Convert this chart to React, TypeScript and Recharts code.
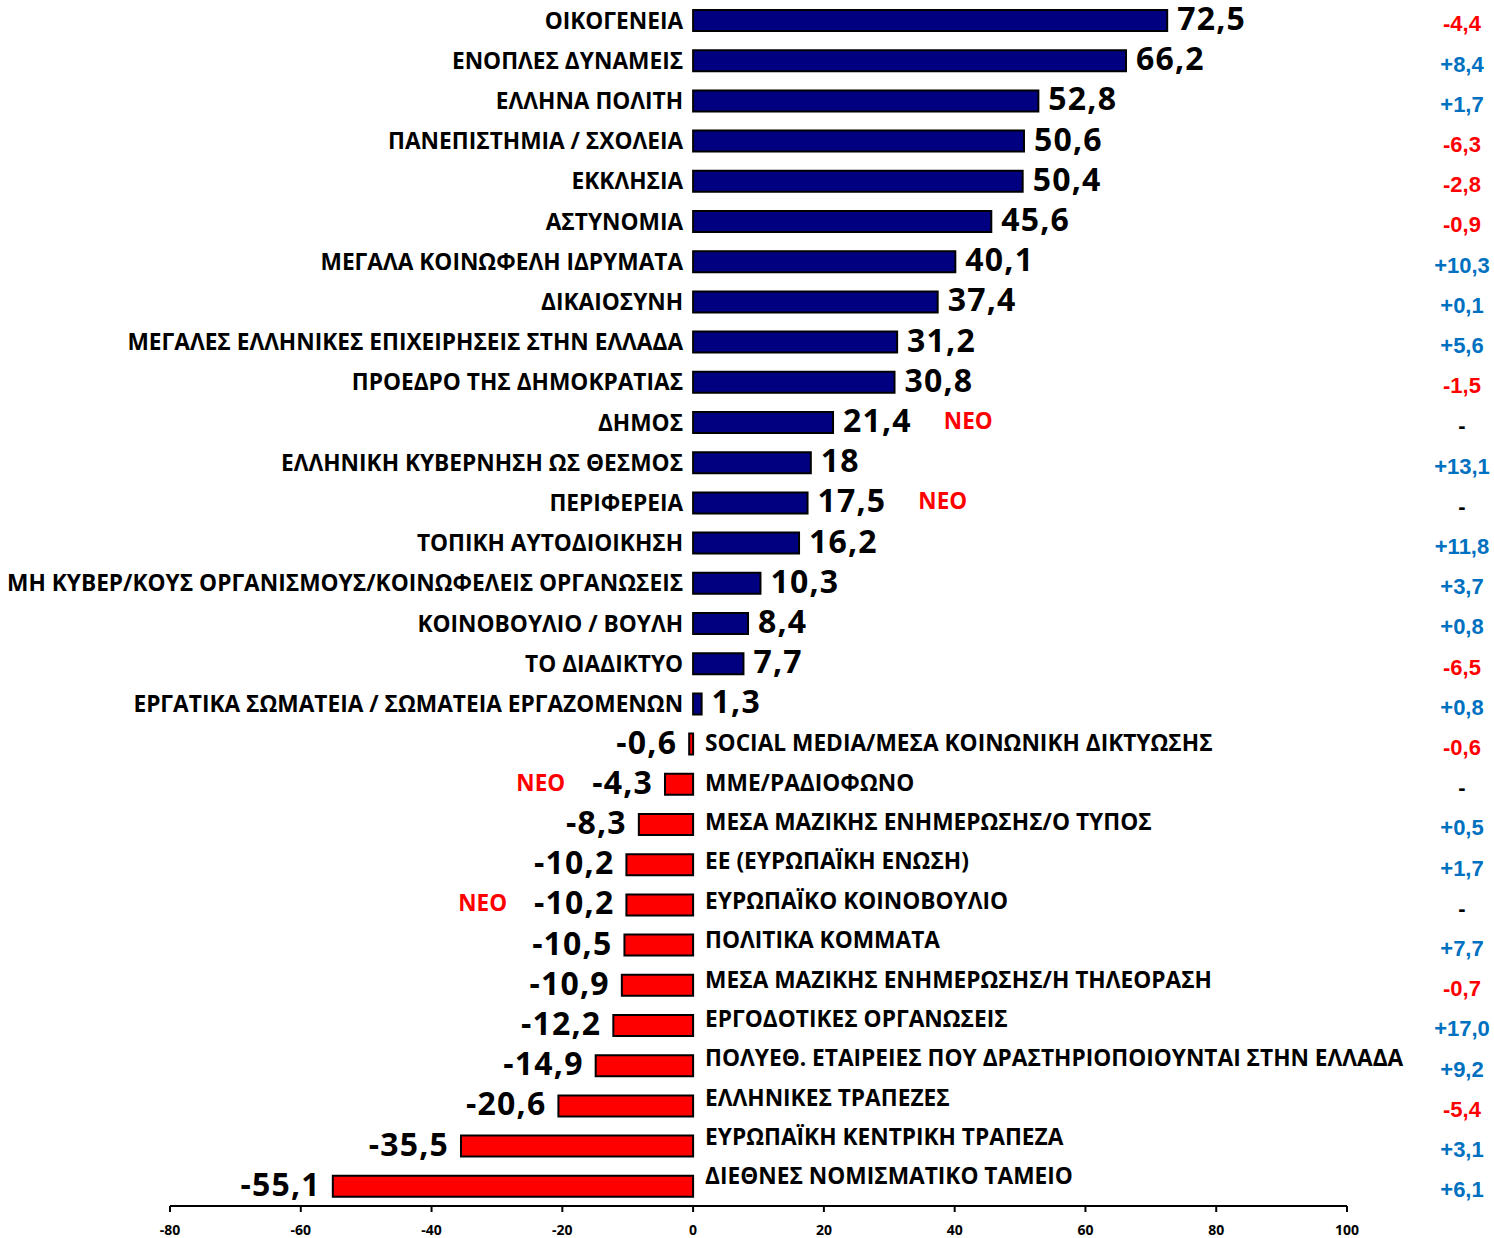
import React from 'react';
import { BarChart, Bar, XAxis, YAxis, Cell, LabelList } from 'recharts';

const categories = [
    'ΟΙΚΟΓΕΝΕΙΑ',
    'ΕΝΟΠΛΕΣ ΔΥΝΑΜΕΙΣ',
    'ΕΛΛΗΝΑ ΠΟΛΙΤΗ',
    'ΠΑΝΕΠΙΣΤΗΜΙΑ / ΣΧΟΛΕΙΑ',
    'ΕΚΚΛΗΣΙΑ',
    'ΑΣΤΥΝΟΜΙΑ',
    'ΜΕΓΑΛΑ ΚΟΙΝΩΦΕΛΗ ΙΔΡΥΜΑΤΑ',
    'ΔΙΚΑΙΟΣΥΝΗ',
    'ΜΕΓΑΛΕΣ ΕΛΛΗΝΙΚΕΣ ΕΠΙΧΕΙΡΗΣΕΙΣ ΣΤΗΝ ΕΛΛΑΔΑ',
    'ΠΡΟΕΔΡΟ ΤΗΣ ΔΗΜΟΚΡΑΤΙΑΣ',
    'ΔΗΜΟΣ',
    'ΕΛΛΗΝΙΚΗ ΚΥΒΕΡΝΗΣΗ ΩΣ ΘΕΣΜΟΣ',
    'ΠΕΡΙΦΕΡΕΙΑ',
    'ΤΟΠΙΚΗ ΑΥΤΟΔΙΟΙΚΗΣΗ',
    'ΜΗ ΚΥΒΕΡ/ΚΟΥΣ ΟΡΓΑΝΙΣΜΟΥΣ/ΚΟΙΝΩΦΕΛΕΙΣ ΟΡΓΑΝΩΣΕΙΣ',
    'ΚΟΙΝΟΒΟΥΛΙΟ / ΒΟΥΛΗ',
    'ΤΟ ΔΙΑΔΙΚΤΥΟ',
    'ΕΡΓΑΤΙΚΑ ΣΩΜΑΤΕΙΑ / ΣΩΜΑΤΕΙΑ ΕΡΓΑΖΟΜΕΝΩΝ',
    'SOCIAL MEDIA/ΜΕΣΑ ΚΟΙΝΩΝΙΚΗ ΔΙΚΤΥΩΣΗΣ',
    'ΜΜΕ/ΡΑΔΙΟΦΩΝΟ',
    'ΜΕΣΑ ΜΑΖΙΚΗΣ ΕΝΗΜΕΡΩΣΗΣ/Ο ΤΥΠΟΣ',
    'ΕΕ (ΕΥΡΩΠΑΪΚΗ ΕΝΩΣΗ)',
    'ΕΥΡΩΠΑΪΚΟ ΚΟΙΝΟΒΟΥΛΙΟ',
    'ΠΟΛΙΤΙΚΑ ΚΟΜΜΑΤΑ',
    'ΜΕΣΑ ΜΑΖΙΚΗΣ ΕΝΗΜΕΡΩΣΗΣ/Η ΤΗΛΕΟΡΑΣΗ',
    'ΕΡΓΟΔΟΤΙΚΕΣ ΟΡΓΑΝΩΣΕΙΣ',
    'ΠΟΛΥΕΘ. ΕΤΑΙΡΕΙΕΣ ΠΟΥ ΔΡΑΣΤΗΡΙΟΠΟΙΟΥΝΤΑΙ ΣΤΗΝ ΕΛΛΑΔΑ',
    'ΕΛΛΗΝΙΚΕΣ ΤΡΑΠΕΖΕΣ',
    'ΕΥΡΩΠΑΪΚΗ ΚΕΝΤΡΙΚΗ ΤΡΑΠΕΖΑ',
    'ΔΙΕΘΝΕΣ ΝΟΜΙΣΜΑΤΙΚΟ ΤΑΜΕΙΟ',
];

const scores = [
    72.5, 66.2, 52.8, 50.6, 50.4, 45.6, 40.1, 37.4, 31.2, 30.8,
    21.4, 18, 17.5, 16.2, 10.3, 8.4, 7.7, 1.3, -0.6, -4.3,
    -8.3, -10.2, -10.2, -10.5, -10.9, -12.2, -14.9, -20.6, -35.5, -55.1,
];

// change vs previous wave, null = new item
const changes = [
    -4.4, 8.4, 1.7, -6.3, -2.8, -0.9, 10.3, 0.1, 5.6, -1.5,
    null, 13.1, null, 11.8, 3.7, 0.8, -6.5, 0.8, -0.6, null,
    0.5, 1.7, null, 7.7, -0.7, 17.0, 9.2, -5.4, 3.1, 6.1,
];

const newItems = ['ΔΗΜΟΣ', 'ΠΕΡΙΦΕΡΕΙΑ', 'ΜΜΕ/ΡΑΔΙΟΦΩΝΟ', 'ΕΥΡΩΠΑΪΚΟ ΚΟΙΝΟΒΟΥΛΙΟ'];

const xTicks = [-80, -60, -40, -20, 0, 20, 40, 60, 80, 100];

const rows = categories.map((name, i) => ({
    name,
    value: scores[i],
    change: changes[i],
    neo: newItems.includes(name),
}));

const W = 1494;
const H = 1238;
const FONT = '"Open Sans", Arial, sans-serif';
const CHANGE_X = 1462;
const VAL_SIZE = 32;
const NEO_SIZE = 22.5;

const fmt = (v: number) => String(v).replace('.', ',');
const fmtChange = (v: number | null) =>
    v == null ? '-' : (v > 0 ? '+' : '') + v.toFixed(1).replace('.', ',');

function RowLabels(props: any) {
    const { index } = props;
    const row = rows[index];
    if (!row) return null;
    const vb = props.viewBox ?? props;
    const left = Math.min(vb.x, vb.x + vb.width);
    const right = Math.max(vb.x, vb.x + vb.width);
    const cy = vb.y + vb.height / 2;
    const pos = row.value >= 0;
    const zero = pos ? left : right;
    const end = pos ? right : left;
    // the lower (negative) labels drift upward a little
    const nameDy = pos ? 0 : -(index - 17) * 0.85;
    const valBase = cy - 2 + VAL_SIZE * 0.36;

    const chColor = row.change == null ? '#000' : row.change < 0 ? '#FF0000' : '#0070C0';

    return (
        <g>
            <text
                x={pos ? zero - 10 : zero + 12}
                y={cy + nameDy}
                dy="0.36em"
                textAnchor={pos ? 'end' : 'start'}
                fontFamily={FONT}
                fontWeight={700}
                fontSize={22.7}
                fill="#000"
            >
                {row.name}
            </text>
            {pos ? (
                <text x={end + 10} y={valBase} textAnchor="start" fontFamily={FONT} fontWeight={700} fontSize={VAL_SIZE} letterSpacing={1.2} fill="#000">
                    <tspan>{fmt(row.value)}</tspan>
                    {row.neo && (
                        <tspan dx={32} dy={-3} fontSize={NEO_SIZE} letterSpacing={0} fill="#FF0000">ΝΕΟ</tspan>
                    )}
                </text>
            ) : (
                <text x={end - 12} y={valBase} textAnchor="end" fontFamily={FONT} fontWeight={700} fontSize={VAL_SIZE} letterSpacing={1.2} fill="#000">
                    {row.neo && (
                        <tspan dy={-3} fontSize={NEO_SIZE} letterSpacing={0} fill="#FF0000">ΝΕΟ</tspan>
                    )}
                    <tspan dx={row.neo ? 27 : 0} dy={row.neo ? 3 : 0}>{fmt(row.value)}</tspan>
                </text>
            )}
            <text
                x={CHANGE_X}
                y={cy + 3}
                dy="0.36em"
                textAnchor="middle"
                fontFamily="'Liberation Sans', Arial, sans-serif"
                fontWeight={700}
                fontSize={22}
                fill={chColor}
            >
                {fmtChange(row.change)}
            </text>
        </g>
    );
}

export default function App() {
    return (
        <div style={{ position: 'absolute', left: 0, top: 0, width: W, height: H, background: '#fff' }}>
            <BarChart
                width={W}
                height={H}
                data={rows}
                layout="vertical"
                margin={{ top: 0, right: 147, bottom: 0, left: 170 }}
            >
                <XAxis
                    type="number"
                    domain={[-80, 100]}
                    ticks={xTicks}
                    interval={0}
                    axisLine={{ stroke: '#000', strokeWidth: 2 }}
                    tickLine={{ stroke: '#000', strokeWidth: 2 }}
                    tickSize={6}
                    tickMargin={13}
                    tick={{ fontSize: 14, fontWeight: 700, fill: '#000', fontFamily: FONT }}
                    height={32}
                />
                <YAxis type="category" dataKey="name" hide width={0} />
                <Bar dataKey="value" barSize={21} stroke="#000" strokeWidth={2} isAnimationActive={false}>
                    {rows.map((r, i) => (
                        <Cell key={`c-${i}`} fill={r.value >= 0 ? '#000080' : '#FF0000'} />
                    ))}
                    <LabelList dataKey="value" content={<RowLabels />} />
                </Bar>
            </BarChart>
        </div>
    );
}
